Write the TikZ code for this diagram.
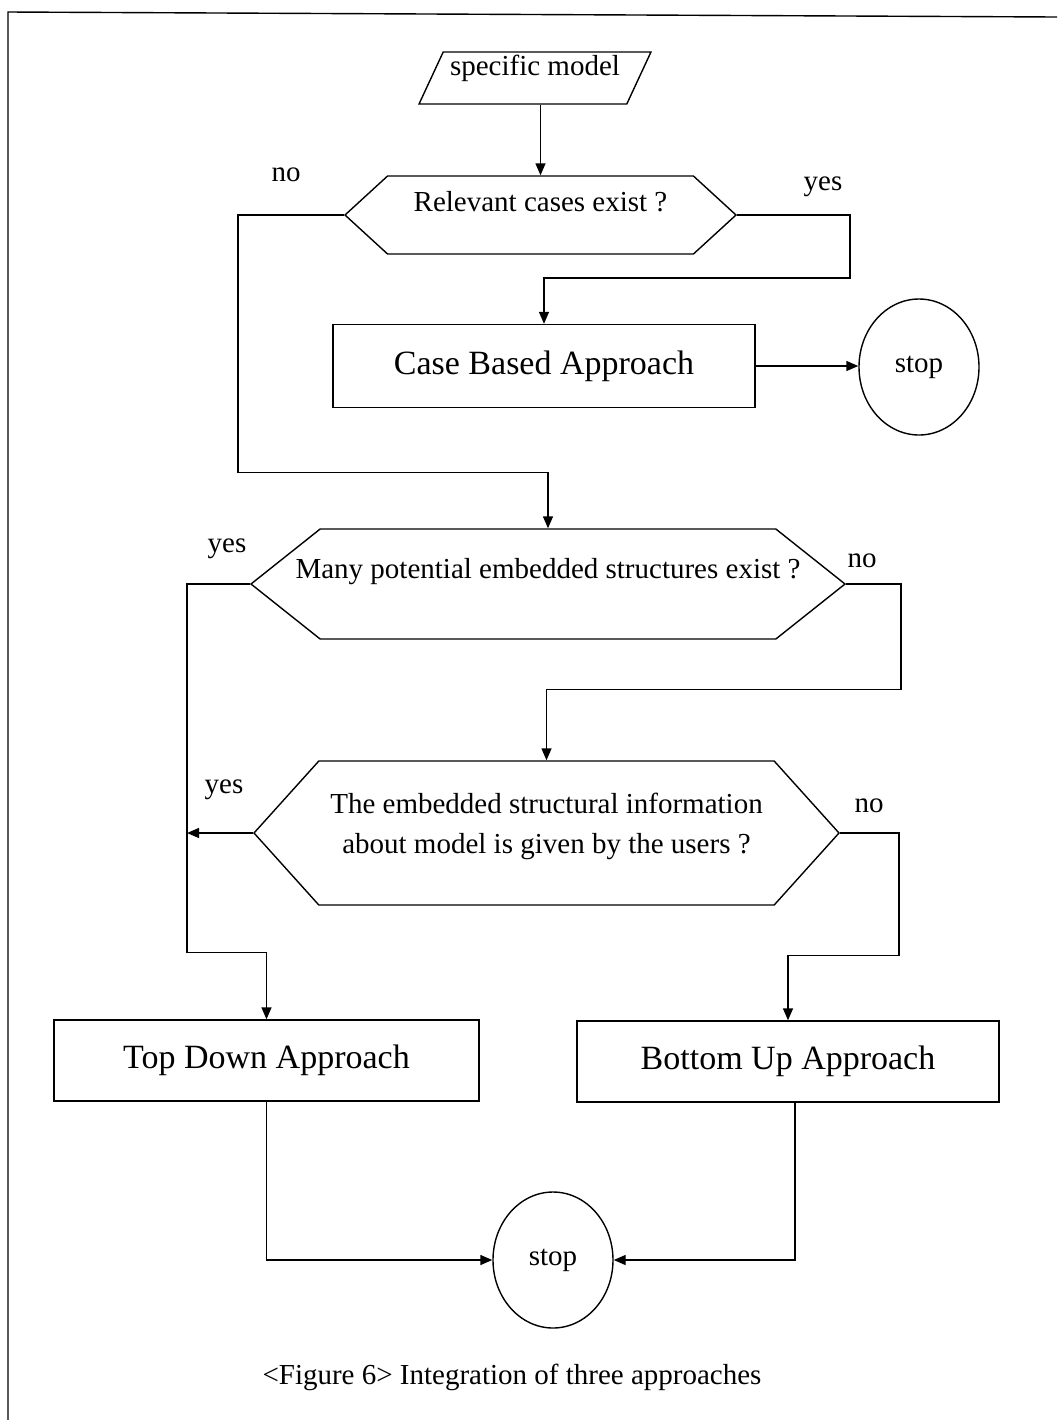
\documentclass[tikz,border=0pt]{standalone}
\usepackage{fontspec}
\setmainfont{Liberation Serif}
\usetikzlibrary{shapes.geometric, shapes.symbols, arrows.meta}

\tikzset{
  every node/.style={font=\fontsize{14.5pt}{20pt}\selectfont},
  hexa/.style={draw, signal, signal to=west and east, inner sep=0pt},
  box/.style={draw, rectangle, font=\fontsize{17pt}{20pt}\selectfont},
  stopper/.style={draw, ellipse, minimum width=60pt, minimum height=68pt},
  arr/.style={-{Triangle[length=6pt,width=5pt]}},
}

\begin{document}
\begin{tikzpicture}[x=0.5pt, y=-0.5pt, line width=0.7pt]
\useasboundingbox (0,0) rectangle (1057,1420);

% frame
\draw (1057,17) -- (8,12) -- (8,1420);

\node[draw, trapezium, trapezium left angle=82.5, trapezium right angle=97.5,
  trapezium stretches=true, minimum width=116pt, minimum height=26pt,
  label={[yshift=5pt]center:specific model}] (model) at (535,78) {};

\node[hexa, signal pointer angle=85, minimum width=195.5pt, minimum height=39pt,
  label={[yshift=6.5pt]center:Relevant cases exist ?}] (q1) at (540.5,215) {};
\node[hexa, signal pointer angle=77, minimum width=297pt, minimum height=55pt,
  label={[yshift=6pt]center:Many potential embedded structures exist ?}] (q2) at (548,584) {};
\node[hexa, signal pointer angle=96, minimum width=292.5pt, minimum height=72pt,
  label={[yshift=3.5pt, align=center]center:The embedded structural information\\about model is given by the users ?}] (q3) at (546.5,833) {};

\node[box, minimum width=211pt, minimum height=41.5pt] (cba) at (544,366) {Case Based Approach};
\node[box, minimum width=212.5pt, minimum height=40.5pt] (td) at (266.5,1060.5) {Top Down Approach};
\node[box, minimum width=211pt, minimum height=40.5pt] (bu) at (788,1061.5) {Bottom Up Approach};

\node[stopper] (stop1) at (919,367) {stop};
\node[stopper] (stop2) at (553,1260) {stop};

% yes / no
\node (q1-no) at (286,175) {no};
\node (q1-yes) at (823,187) {yes};
\node (q2-yes) at (227,549) {yes};
\node (q2-no) at (862,561) {no};
\node (q3-yes) at (224,790) {yes};
\node (q3-no) at (869,806) {no};

% connectors
\draw[arr] (q1.north |- model.south) -- (q1.north);
\draw[arr] (q1.west) -- ++(-106,0) |- ([yshift=28pt]q2.north) -- (q2.north);
\draw[arr] (q1.east) -- ++(113,0) |- ([yshift=23pt]cba.north) -- (cba.north);
\draw[arr] (cba.east) -- (cba.east -| stop1.west);
\draw[arr] (q2.west) -- ++(-63,0) |- ([yshift=33.5pt]td.north) -- (td.north);
\draw[arr] (q2.east) -- ++(55,0) |- ([yshift=35.5pt]q3.north) -- (q3.north);
\draw[arr] (q3.west) -- ++(-66,0);
\draw[arr] (q3.east) -- ++(59,0) |- ([yshift=32.5pt]bu.north) -- (bu.north);
\draw[arr] (td.south) |- (stop2.west);
\draw[arr] ([xshift=3.5pt]bu.south) |- (stop2.east);

\node (caption) at (512,1377) {<Figure 6> Integration of three approaches};

\end{tikzpicture}
\end{document}
